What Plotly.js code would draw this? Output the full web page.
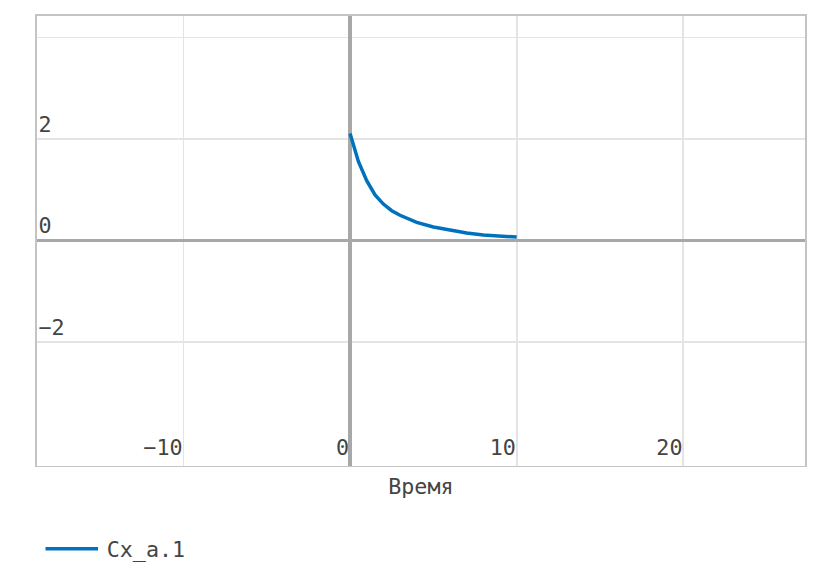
<!DOCTYPE html>
<html>
<head>
<meta charset="utf-8">
<script src="https://cdn.plot.ly/plotly-3.0.1.min.js"></script>
<style>
  html, body { margin: 0; padding: 0; background: #fff; }
  body { width: 833px; height: 580px; overflow: hidden; }
  /* the reference looks like an export at ~1.75x, so draw small and scale up */
  #chart { width: 476px; height: 331px; transform: scale(1.75); transform-origin: 0 0; }
</style>
</head>
<body>
<div id="chart"></div>
<script>
// values
const timeValues = [0, 0.25, 0.5, 1, 1.5, 2, 2.5, 3, 4, 5, 6, 7, 8, 9, 10];
const cxValues = [2.11, 1.84, 1.56, 1.18, 0.90, 0.72, 0.59, 0.50, 0.36, 0.27, 0.20, 0.15, 0.11, 0.09, 0.07];
const seriesName = 'Cx_a.1';
const xTitle = 'Время';
const yTickVals = [-2, 0, 2, 4];
const yTickText = ['\u22122', '0', '2', ''];

const monoFont = 'DejaVu Sans Mono, monospace';

let trace =
{
  name: seriesName,
  x: timeValues,
  y: cxValues,
  type: 'scatter',
  mode: 'lines',
  line: {color: '#0072bd', width: 2}
};

let axisCommon =
{
  showline: true,
  mirror: true,
  linecolor: '#c4c4c4',
  linewidth: 1,
  gridcolor: '#e4e4e4',
  gridwidth: 1,
  zeroline: true,
  zerolinecolor: '#a8a8a8',
  zerolinewidth: 2,
  ticks: '',
  automargin: false,
  tickfont: {family: monoFont, size: 12.4, color: '#444'}
};

let layout =
{
  width: 476,
  height: 331,
  margin: {l: 21, r: 16, t: 9, b: 65, autoexpand: false},
  paper_bgcolor: '#fff',
  plot_bgcolor: '#fff',
  font: {family: monoFont, size: 12.4, color: '#444'},
  showlegend: true,
  legend:
  {
    orientation: 'h',
    x: 0,
    xanchor: 'left',
    y: -0.187,
    yanchor: 'middle',
    font: {family: monoFont, size: 12.4, color: '#444'}
  },
  xaxis: Object.assign({}, axisCommon,
  {
    range: [-18.8, 27.3],
    autorange: false,
    dtick: 10,
    ticklabelposition: 'inside left',
    title: {text: xTitle, font: {family: monoFont, size: 12.4, color: '#444'}}
  }),
  yaxis: Object.assign({}, axisCommon,
  {
    range: [-4.43, 4.43],
    autorange: false,
    tickmode: 'array',
    tickvals: yTickVals,
    ticktext: yTickText,
    ticklabelposition: 'inside top'
  })
};

Plotly.newPlot('chart', [trace], layout, {displayModeBar: false, responsive: false});
</script>
</body>
</html>
